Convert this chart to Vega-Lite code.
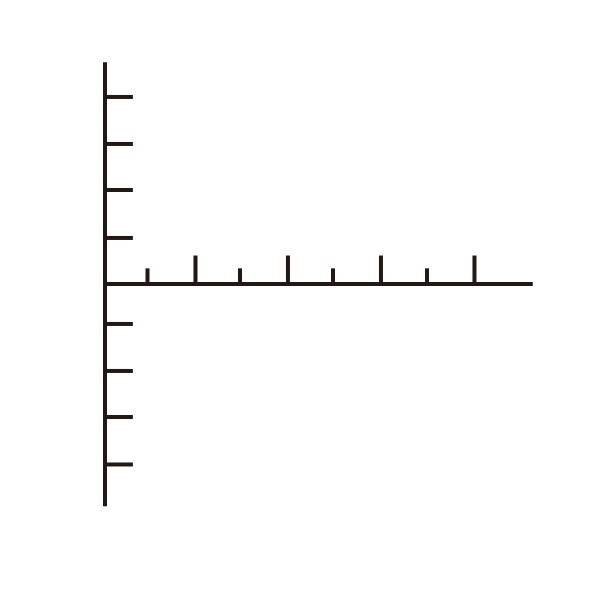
{
  "$schema": "https://vega.github.io/schema/vega-lite/v6.json",
  "width": 591,
  "height": 591,
  "autosize": {"type": "fit", "contains": "padding"},
  "padding": 0,
  "background": "white",
  "config": {"view": {"stroke": null}},
  "data": {
    "values": [
      {"part": "x-axis", "x": -0.04, "x2": 9.2, "y": 0, "y2": 0},
      {"part": "y-axis", "x": 0, "x2": 0, "y": 4.72, "y2": -4.73},
      {"part": "ytick", "x": 0, "x2": 0.6, "y": 3.98, "y2": 3.98},
      {"part": "ytick", "x": 0, "x2": 0.6, "y": 2.98, "y2": 2.98},
      {"part": "ytick", "x": 0, "x2": 0.6, "y": 2.0, "y2": 2.0},
      {"part": "ytick", "x": 0, "x2": 0.6, "y": 0.98, "y2": 0.98},
      {"part": "ytick", "x": 0, "x2": 0.6, "y": -0.85, "y2": -0.85},
      {"part": "ytick", "x": 0, "x2": 0.6, "y": -1.85, "y2": -1.85},
      {"part": "ytick", "x": 0, "x2": 0.6, "y": -2.83, "y2": -2.83},
      {"part": "ytick", "x": 0, "x2": 0.6, "y": -3.84, "y2": -3.84},
      {"part": "xtick", "x": 0.914, "x2": 0.914, "y": 0, "y2": 0.334},
      {"part": "xtick", "x": 1.946, "x2": 1.946, "y": 0, "y2": 0.606},
      {"part": "xtick", "x": 2.903, "x2": 2.903, "y": 0, "y2": 0.334},
      {"part": "xtick", "x": 3.935, "x2": 3.935, "y": 0, "y2": 0.606},
      {"part": "xtick", "x": 4.903, "x2": 4.903, "y": 0, "y2": 0.334},
      {"part": "xtick", "x": 5.935, "x2": 5.935, "y": 0, "y2": 0.606},
      {"part": "xtick", "x": 6.925, "x2": 6.925, "y": 0, "y2": 0.334},
      {"part": "xtick", "x": 7.946, "x2": 7.946, "y": 0, "y2": 0.606}
    ]
  },
  "mark": {"type": "rule", "stroke": "#231815", "strokeWidth": 4, "strokeCap": "butt"},
  "encoding": {
    "x": {"field": "x", "type": "quantitative", "axis": null, "scale": {"domain": [-2.258, 10.452], "nice": false, "zero": false}},
    "x2": {"field": "x2"},
    "y": {"field": "y", "type": "quantitative", "axis": null, "scale": {"domain": [-6.532, 6.043], "nice": false, "zero": false}},
    "y2": {"field": "y2"}
  }
}
